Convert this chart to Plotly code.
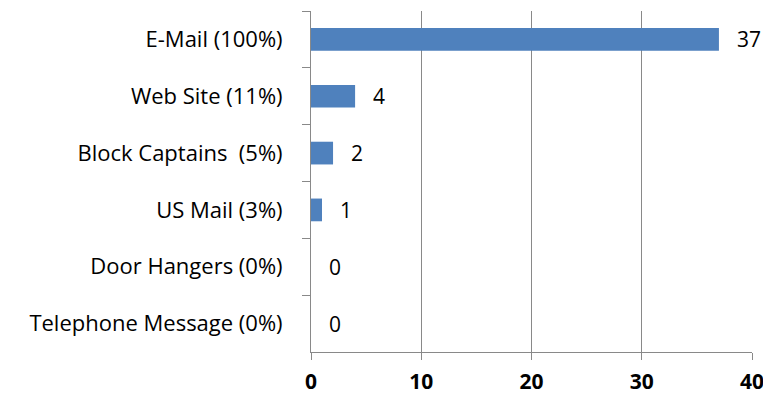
import plotly.graph_objects as go

categories = ["E-Mail (100%)", "Web Site (11%)", "Block Captains  (5%)",
              "US Mail (3%)", "Door Hangers (0%)", "Telephone Message (0%)"]
values = [37, 4, 2, 1, 0, 0]
x_ticks = [0, 10, 20, 30, 40]

grid = "#898989"
FONT = "Open Sans, Liberation Sans, Arial"

fig = go.Figure(go.Bar(
    x=values, y=categories, orientation="h",
    marker=dict(color="#4F81BD", line=dict(width=0)),
    width=0.40,
))

for c, v in zip(categories, values):
    fig.add_annotation(x=v, y=c, text=str(v), showarrow=False,
                       xanchor="left", xshift=16,
                       font=dict(family=FONT, size=21, color="#000000"))

# page body has an 8px default margin; size the figure so the plot area lands where intended
fig.update_layout(
    width=763, height=402,
    margin=dict(l=303, r=19, t=3, b=58),
    paper_bgcolor="white", plot_bgcolor="white",
    showlegend=False,
)
fig.update_xaxes(
    range=[0, 40], tickvals=x_ticks, showgrid=True, gridcolor=grid, gridwidth=1,
    showline=True, linecolor=grid, linewidth=1, ticks="outside", ticklen=7,
    tickcolor=grid, zeroline=False, ticklabelstandoff=4,
    tickfont=dict(family=FONT, size=21, color="#000000", weight="bold"),
)
fig.update_yaxes(
    categoryorder="array", categoryarray=categories, autorange="reversed",
    showgrid=False, showline=True, linecolor=grid, linewidth=1,
    ticks="outside", ticklen=8, tickcolor=grid, tickson="boundaries",
    ticklabelstandoff=23,
    tickfont=dict(family=FONT, size=22, color="#000000"),
)

fig.write_html("out.html")
